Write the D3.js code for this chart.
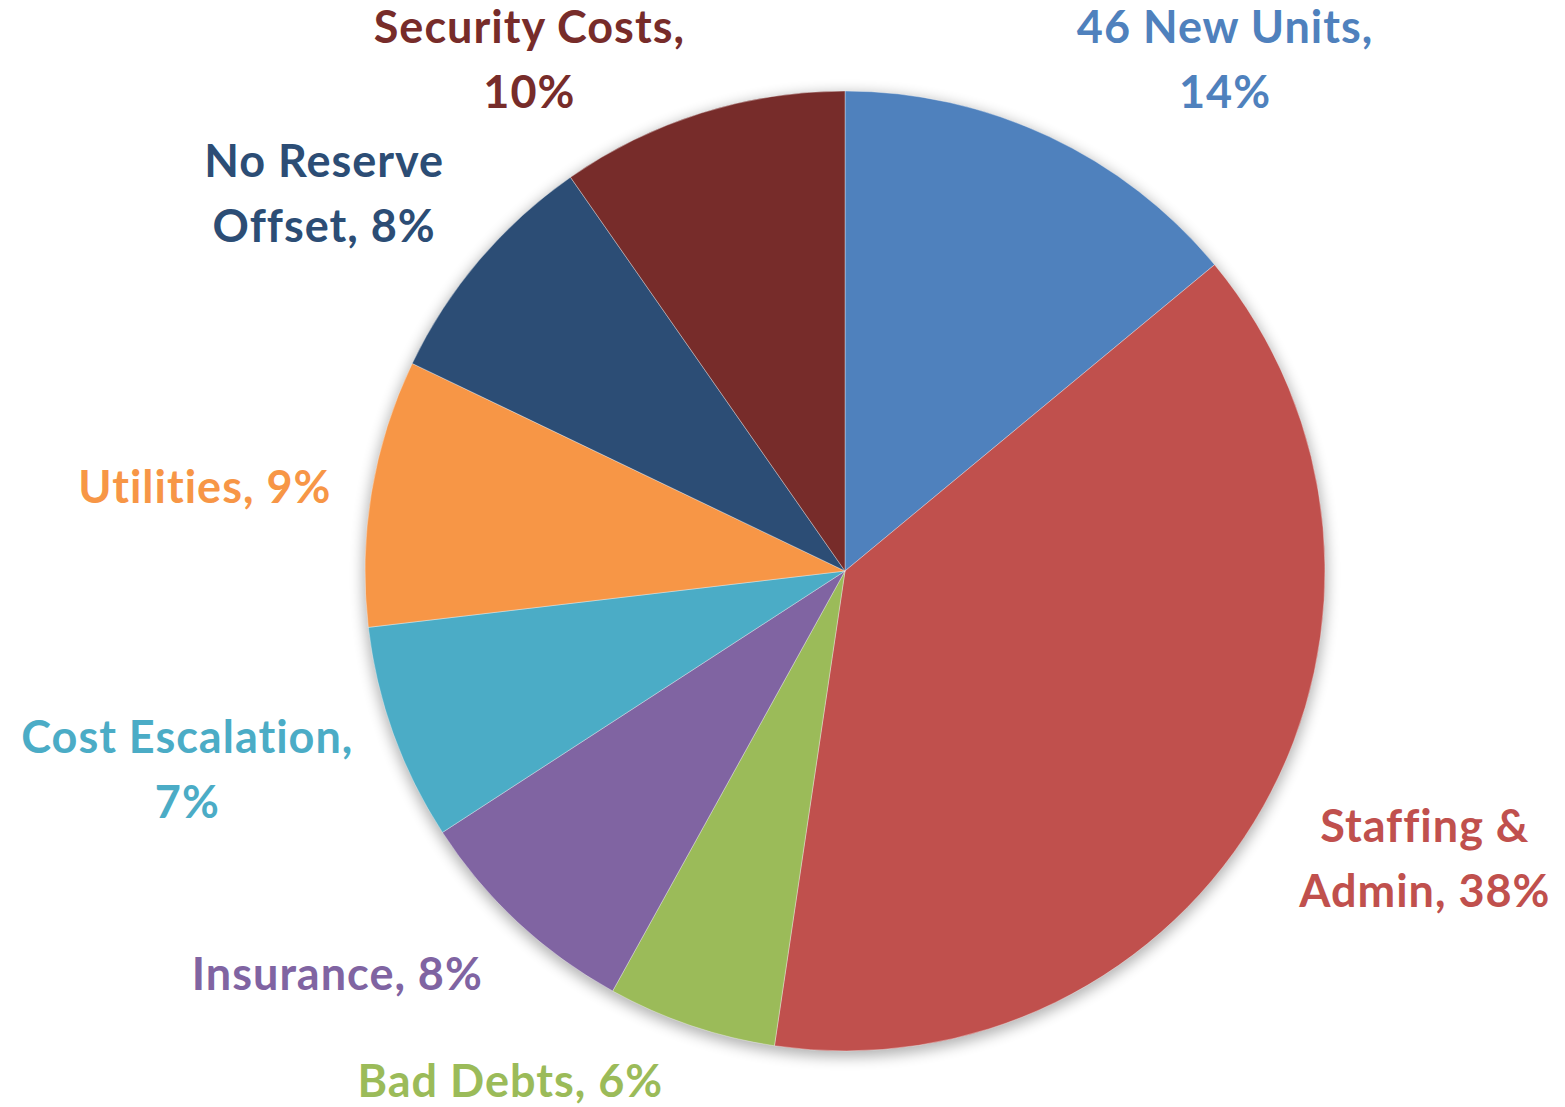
<!DOCTYPE html>
<html>
<head>
<meta charset="utf-8">
<script src="https://cdn.jsdelivr.net/npm/d3@7"></script>
<style>
  html, body { margin: 0; padding: 0; background: #fff; }
  svg { display: block; }
</style>
</head>
<body>
<script>
// Size of the page / svg
const w = 1565;
const h = 1107;

// Slice names, split into the lines shown in the labels
const labelLines = [
  ["46 New Units,", "14%"],
  ["Staffing &", "Admin, 38%"],
  ["Bad Debts, 6%"],
  ["Insurance, 8%"],
  ["Cost Escalation,", "7%"],
  ["Utilities, 9%"],
  ["No Reserve", "Offset, 8%"],
  ["Security Costs,", "10%"]
];
// Share of each slice (percent)
const shares = [14.0, 38.4, 5.7, 7.8, 7.3, 9.0, 8.2, 9.7];
// Slice colours
const colors = ["#4F81BD", "#C0504D", "#9BBB59", "#8064A2", "#4BACC6", "#F79646", "#2C4D75", "#772C2A"];

// Label nudges from the outer centroid (layout only)
const labelNudge = [[135, -7], [78, -12], [-150, -20], [-115, -2], [-116, -14], [-72, 26], [-82, -21], [-143, 22]];

const cx = 845, cy = 571, r = 480;
const lineGap = 65;

const svg = d3.select("body").append("svg")
  .attr("width", w)
  .attr("height", h);

// soft shadow behind the pie
const defs = svg.append("defs");
const f = defs.append("filter").attr("id", "shadow")
  .attr("x", "-20%").attr("y", "-20%").attr("width", "140%").attr("height", "140%");
f.append("feGaussianBlur").attr("stdDeviation", 7);

const g = svg.append("g").attr("transform", `translate(${cx},${cy})`);

g.append("circle")
  .attr("cx", 0).attr("cy", 4).attr("r", r + 2)
  .attr("fill", "#000").attr("opacity", 0.3)
  .attr("filter", "url(#shadow)");

const pie = d3.pie().sort(null).value(d => d)(shares);
const arc = d3.arc().innerRadius(0).outerRadius(r);
const labelArc = d3.arc().innerRadius(r * 1.2).outerRadius(r * 1.2);

g.selectAll("path.slice")
  .data(pie)
  .enter()
  .append("path")
  .attr("class", "slice")
  .attr("d", arc)
  .attr("fill", (d, i) => colors[i])
  .attr("stroke", "rgba(255,255,255,0.35)")
  .attr("stroke-width", 1);

const labels = g.selectAll("text.lbl")
  .data(pie)
  .enter()
  .append("text")
  .attr("class", "lbl")
  .attr("transform", (d, i) => {
    const c = labelArc.centroid(d);
    return `translate(${c[0] + labelNudge[i][0]},${c[1] + labelNudge[i][1]})`;
  })
  .attr("text-anchor", "middle")
  .attr("fill", (d, i) => colors[i])
  .style("font-family", "Lato, 'Open Sans', sans-serif")
  .style("font-weight", "bold")
  .style("font-size", "45px")
  .style("letter-spacing", "1px")
  .style("font-variant-ligatures", "none");

labels.each(function(d, i) {
  d3.select(this).selectAll("tspan")
    .data(labelLines[i])
    .enter()
    .append("tspan")
    .attr("x", 0)
    .attr("y", (t, j) => j * lineGap)
    .text(t => t);
});
</script>
</body>
</html>
